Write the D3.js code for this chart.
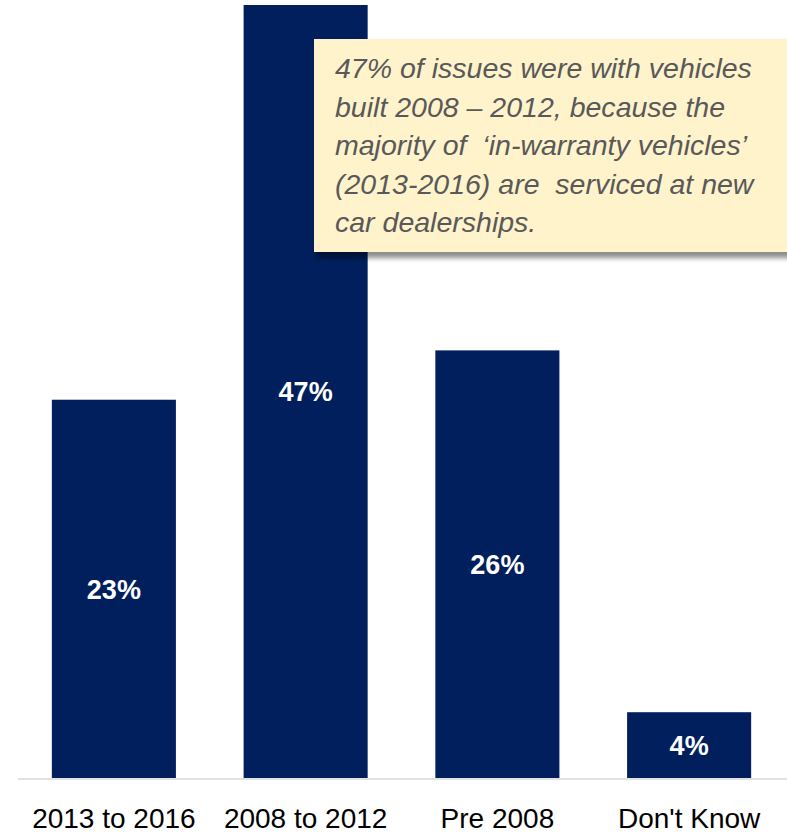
<!DOCTYPE html>
<html>
<head>
<meta charset="utf-8">
<script src="https://cdn.jsdelivr.net/npm/d3@7"></script>
<style>
  html, body { margin: 0; padding: 0; background: #fff; }
  svg { display: block; }
</style>
</head>
<body>
<svg id="chart" width="787" height="835"></svg>
<script>
// Vehicle build year of reported issues (% of responses)
const categories = ["2013 to 2016", "2008 to 2012", "Pre 2008", "Don't Know"];
const shares = [23, 47, 26, 4];
const valueLabels = ["23%", "47%", "26%", "4%"];
const calloutLines = [
  "47% of issues were with vehicles",
  "built 2008 \u2013 2012, because the",
  "majority of  \u2018in-warranty vehicles\u2019",
  "(2013-2016) are  serviced at new",
  "car dealerships."
];

const svg = d3.select("#chart");
const W = 787, H = 835;
const baseY = 778, topY = 5;

const x = d3.scaleBand()
  .domain(categories)
  .range([18, 785])
  .paddingInner(0.353)
  .paddingOuter(0.1765);

const y = d3.scaleLinear()
  .domain([0, d3.max(shares)])
  .range([baseY, topY]);

const data = categories.map((c, i) => ({ cat: c, v: shares[i], label: valueLabels[i] }));

// bars
svg.append("g").selectAll("rect")
  .data(data)
  .join("rect")
  .attr("x", d => x(d.cat))
  .attr("y", d => y(d.v))
  .attr("width", x.bandwidth())
  .attr("height", d => y(0) - y(d.v))
  .attr("fill", "#001f5c");

// value labels inside bars
svg.append("g").selectAll("text")
  .data(data)
  .join("text")
  .attr("x", d => x(d.cat) + x.bandwidth() / 2)
  .attr("y", d => (y(d.v) + y(0)) / 2)
  .attr("dy", "0.36em")
  .attr("text-anchor", "middle")
  .attr("fill", "#ffffff")
  .attr("font-family", "'Liberation Sans', Arial, sans-serif")
  .attr("font-weight", "bold")
  .attr("font-size", 27)
  .text(d => d.label);

// baseline
svg.append("line")
  .attr("x1", 18).attr("x2", W)
  .attr("y1", baseY + 1).attr("y2", baseY + 1)
  .attr("stroke", "#d9d9d9")
  .attr("stroke-width", 1.5);

// category axis (no domain line or ticks)
const xAxis = svg.append("g")
  .attr("transform", `translate(0,${baseY})`)
  .call(d3.axisBottom(x).tickSize(0).tickPadding(0));
xAxis.select(".domain").remove();
xAxis.selectAll("text")
  .attr("y", 50)
  .attr("dy", 0)
  .attr("fill", "#000")
  .attr("font-family", "'Liberation Sans', Arial, sans-serif")
  .attr("font-size", 28);

// callout box with drop shadow
const defs = svg.append("defs");
const f = defs.append("filter").attr("id", "shadow")
  .attr("x", "-10%").attr("y", "-10%").attr("width", "130%").attr("height", "130%");
f.append("feGaussianBlur").attr("in", "SourceAlpha").attr("stdDeviation", 2.5).attr("result", "b");
f.append("feOffset").attr("in", "b").attr("dx", 3).attr("dy", 6).attr("result", "o");
f.append("feComponentTransfer").attr("in", "o").attr("result", "s")
  .append("feFuncA").attr("type", "linear").attr("slope", 0.45);
const m = f.append("feMerge");
m.append("feMergeNode").attr("in", "s");
m.append("feMergeNode").attr("in", "SourceGraphic");

const boxX = 314, boxY = 39, boxW = 480, boxH = 213;
svg.append("rect")
  .attr("x", boxX).attr("y", boxY)
  .attr("width", boxW).attr("height", boxH)
  .attr("fill", "#fff3cc")
  .attr("filter", "url(#shadow)");

const note = svg.append("text")
  .attr("font-family", "'Liberation Sans', Arial, sans-serif")
  .attr("font-style", "italic")
  .attr("font-size", 26)
  .attr("fill", "#595959");
note.selectAll("tspan")
  .data(calloutLines)
  .join("tspan")
  .attr("x", 335)
  .attr("y", (d, i) => 78 + i * 38.5)
  .attr("xml:space", "preserve")
  .style("white-space", "pre")
  .text(d => d);

// size the note text so its first line spans the box width used in the layout
const firstLen = note.select("tspan").node().getComputedTextLength();
const fitted = 26 * 417 / firstLen;
note.attr("font-size", fitted);
</script>
</body>
</html>
